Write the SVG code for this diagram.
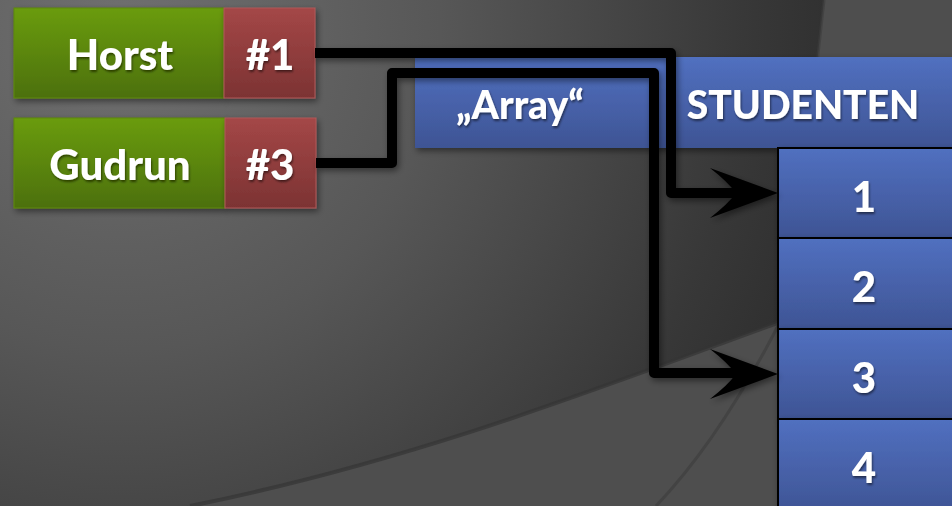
<svg xmlns="http://www.w3.org/2000/svg" width="952" height="506" viewBox="0 0 952 506">
<defs>
<radialGradient id="bgDark" cx="120" cy="30" r="800" gradientUnits="userSpaceOnUse">
<stop offset="0" stop-color="#707070"/>
<stop offset="0.4" stop-color="#575757"/>
<stop offset="0.78" stop-color="#383838"/>
<stop offset="1" stop-color="#292929"/>
</radialGradient>
<linearGradient id="gGreen" x1="0" y1="0" x2="0" y2="1">
<stop offset="0" stop-color="#6a9c0c"/>
<stop offset="1" stop-color="#4c7007"/>
</linearGradient>
<linearGradient id="gRed" x1="0" y1="0" x2="0" y2="1">
<stop offset="0" stop-color="#a44747"/>
<stop offset="1" stop-color="#7c3333"/>
</linearGradient>
<linearGradient id="gBlue" x1="0" y1="0" x2="0" y2="1">
<stop offset="0" stop-color="#5170c0"/>
<stop offset="1" stop-color="#3e5494"/>
</linearGradient>
<filter id="shadow" x="-10%" y="-10%" width="130%" height="140%">
<feDropShadow dx="2" dy="3" stdDeviation="3" flood-color="#000" flood-opacity="0.45"/>
</filter>
<filter id="tshadow" x="-10%" y="-10%" width="130%" height="140%">
<feDropShadow dx="1" dy="2" stdDeviation="1.2" flood-color="#000" flood-opacity="0.5"/>
</filter>
<style>
.lbl{font-family:Lato,"Open Sans","Liberation Sans",sans-serif;font-weight:900;fill:#ffffff;text-anchor:middle;filter:url(#tshadow)}
.big{font-size:42px}
.hdr{font-size:39px}
.num{font-size:42px}
.green{fill:url(#gGreen);stroke:#5c8a0c;stroke-width:1}
.red{fill:url(#gRed);stroke:#b05858;stroke-width:1}
.blue{fill:url(#gBlue)}
.cell{fill:url(#gBlue);stroke:#000;stroke-width:2}
.wire{fill:none;stroke:#000;stroke-width:10;stroke-linejoin:round;stroke-linecap:butt}
.head{fill:#000}
</style>
</defs>

<g id="background">
<rect x="0" y="0" width="952" height="506" fill="#4e4e4e"/>
<path d="M0,0 L824,0 C812,110 800,220 780,322 C620,380 420,460 190,506 L0,506 Z" fill="url(#bgDark)"/>
<path d="M824,0 C812,110 800,220 780,322 C740,400 700,460 656,506" fill="none" stroke="#3c3c3c" stroke-width="3" opacity="0.6"/>
<path d="M780,322 C620,380 420,460 190,506" fill="none" stroke="#353535" stroke-width="4" opacity="0.7"/>
</g>

<g id="horst-name" filter="url(#shadow)">
<rect class="green" x="14" y="8" width="210" height="90"/>
<text class="lbl big" x="120" y="70">Horst</text>
</g>
<g id="horst-ref" filter="url(#shadow)">
<rect class="red" x="224" y="8" width="91" height="90"/>
<text class="lbl big" x="270" y="70">#1</text>
</g>
<g id="gudrun-name" filter="url(#shadow)">
<rect class="green" x="14" y="118" width="211" height="90"/>
<text class="lbl big" x="120" y="180">Gudrun</text>
</g>
<g id="gudrun-ref" filter="url(#shadow)">
<rect class="red" x="225" y="118" width="91" height="90"/>
<text class="lbl big" x="270" y="180">#3</text>
</g>

<g id="array-header" filter="url(#shadow)">
<rect class="blue" x="415" y="57" width="540" height="91"/>
<text class="lbl hdr" x="520" y="119">„Array“</text>
<text class="lbl hdr" x="803" y="119">STUDENTEN</text>
</g>

<g id="cell-1" filter="url(#shadow)">
<rect class="cell" x="778" y="148" width="180" height="90"/>
<text class="lbl num" x="864" y="212">1</text>
</g>
<g id="cell-2" filter="url(#shadow)">
<rect class="cell" x="778" y="238" width="180" height="91"/>
<text class="lbl num" x="864" y="302">2</text>
</g>
<g id="cell-3" filter="url(#shadow)">
<rect class="cell" x="778" y="329" width="180" height="90"/>
<text class="lbl num" x="864" y="393">3</text>
</g>
<g id="cell-4" filter="url(#shadow)">
<rect class="cell" x="778" y="419" width="180" height="95"/>
<text class="lbl num" x="864" y="483">4</text>
</g>

<g id="connectors" filter="url(#shadow)">
<path class="wire" d="M315,53 H671 V193 H740"/>
<path class="head" d="M778,193 L710,168 Q728,182 736,193 Q728,204 710,218 Z"/>
<path class="wire" d="M316,163 H392 V73 H654 V373 H740"/>
<path class="head" d="M778,374 L710,349 Q728,363 736,374 Q728,385 710,399 Z"/>
</g>
</svg>
